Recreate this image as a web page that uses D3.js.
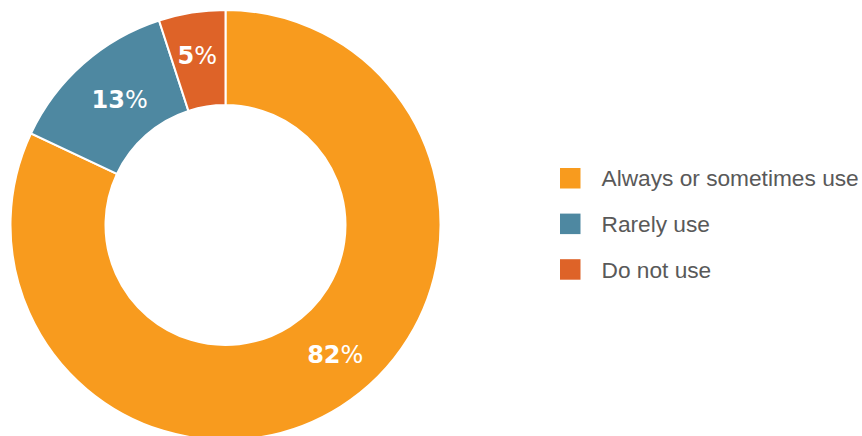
<!DOCTYPE html>
<html>
<head>
<meta charset="utf-8">
<script src="https://cdn.jsdelivr.net/npm/d3@7"></script>
<style>
html,body{margin:0;padding:0;background:#fff;}
svg{display:block;}
</style>
</head>
<body>
<svg id="chart" width="862" height="436"></svg>
<script>
const categories = ["Always or sometimes use", "Rarely use", "Do not use"];
const values = [82, 13, 5];
const colors = ["#F89B1E", "#4E88A1", "#DE6328"];
// label nudges (px) relative to arc centroid
const labelNudgeX = [20, 5, -2];
const labelNudgeY = [-12, 0, -4];

const svg = d3.select("#chart");
const cx = 225.5, cy = 225, outerR = 215, innerR = 120;

const pie = d3.pie().sort(null).value(d => d.value);
const data = categories.map((c, i) => ({name: c, value: values[i], color: colors[i], i}));
const arcs = pie(data);
const arc = d3.arc().innerRadius(innerR).outerRadius(outerR);

const g = svg.append("g").attr("transform", `translate(${cx},${cy})`);
g.selectAll("path.slice").data(arcs).join("path")
  .attr("class", "slice")
  .attr("d", arc)
  .attr("fill", d => d.data.color)
  .attr("stroke", "#fff")
  .attr("stroke-width", 2);

const lbl = g.selectAll("text.lbl").data(arcs).join("text")
  .attr("class", "lbl")
  .attr("transform", d => {
    const [x, y] = arc.centroid(d);
    return `translate(${x + labelNudgeX[d.data.i]},${y + labelNudgeY[d.data.i]})`;
  })
  .attr("text-anchor", "middle")
  .attr("dy", "0.36em")
  .attr("fill", "#fff")
  .style("font-family", "'DejaVu Sans', sans-serif")
  .style("font-size", "24px");
lbl.append("tspan").style("font-weight", "bold").text(d => d.data.value);
lbl.append("tspan").style("font-weight", "normal").text("%");

const legend = svg.append("g").attr("transform", "translate(560,168)");
const items = legend.selectAll("g").data(data).join("g")
  .attr("transform", (d, i) => `translate(0,${i * 45.6})`);
items.append("rect").attr("width", 20.5).attr("height", 20.5).attr("fill", d => d.color);
items.append("text")
  .attr("x", 41.5).attr("y", 10.5).attr("dy", "0.35em")
  .attr("fill", "#595959")
  .style("font-family", "'Liberation Sans', Arial, sans-serif")
  .style("font-size", "22.7px")
  .text(d => d.name);
</script>
</body>
</html>
